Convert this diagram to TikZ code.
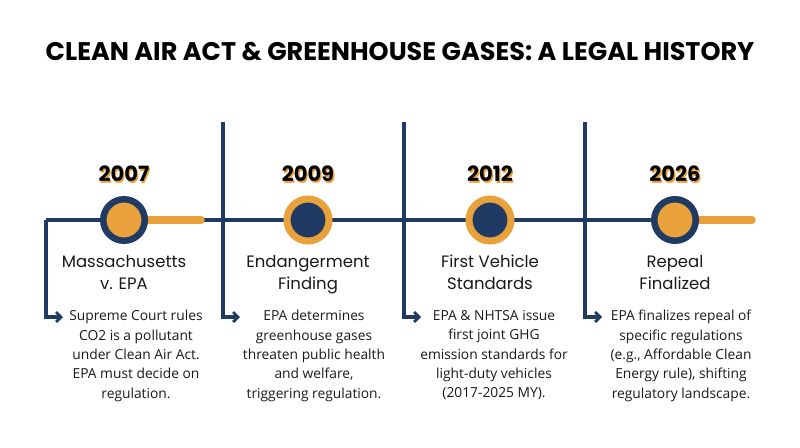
\documentclass[tikz,border=0pt]{standalone}
\usepackage{fontspec}
\setmainfont{Open Sans}
\newfontfamily\popfont{Poppins}
\newfontfamily\popbold{Poppins}[UprightFont=* Bold]
\usetikzlibrary{arrows.meta}
\definecolor{navy}{HTML}{1F3B63}
\definecolor{gold}{HTML}{E9A23B}
\definecolor{ink}{HTML}{1A1A1A}
\tikzset{
  tl/.style={draw=navy, line width=3.2pt},
  arr/.style={tl, -{Straight Barb[length=5pt,width=10pt,line width=2.8pt]}},
  bar/.style={draw=gold, line width=7.5pt, line cap=round},
  ringA/.style={circle, fill=gold, draw=navy, line width=6.5pt, minimum size=41.5pt, inner sep=0},
  ringB/.style={circle, fill=navy, draw=gold, line width=7pt, minimum size=42pt, inner sep=0},
  yr/.style={font=\popbold\fontsize{21}{24}\selectfont, text=black, inner sep=0},
  yrsh/.style={font=\popbold\fontsize{21}{24}\selectfont, text=gold, inner sep=0},
  ttl/.style={font=\popfont\fontsize{16.5}{22}\selectfont, text=ink, align=center, inner sep=0, anchor=north},
  desc/.style={font=\fontsize{13.8}{19.4}\selectfont, text=ink, align=center, inner sep=0, anchor=north},
}
\begin{document}
\begin{tikzpicture}[x=1pt,y=-1pt]
\useasboundingbox[fill=white] (0,0) rectangle (800,447);
\node[font=\popbold\fontsize{25.5}{28}\selectfont, text=black, inner sep=0] (title) at (400,52) {CLEAN AIR ACT \& GREENHOUSE GASES: A LEGAL HISTORY};

% coordinates
\coordinate (h0) at (46,220);
\coordinate (d0) at (46,317);
\coordinate (t0) at (63,317);
\coordinate (v1) at (223,122);
\coordinate (d1) at (223,317);
\coordinate (t1) at (240,317);
\coordinate (v2) at (404,122);
\coordinate (d2) at (404,317);
\coordinate (t2) at (421,317);
\coordinate (v3) at (585,122);
\coordinate (d3) at (585,317);
\coordinate (t3) at (602,317);
\coordinate (b1) at (201,220);
\coordinate (b4) at (752,220);

% circle positions
\path (124,220) coordinate (p1) (308,220) coordinate (p2) (490,220) coordinate (p3) (675,220) coordinate (p4);

% lines
\draw[tl] (h0) -- (p4);
\draw[arr] (h0) -- (d0) -- (t0);
\draw[arr] (v1) -- (d1) -- (t1);
\draw[arr] (v2) -- (d2) -- (t2);
\draw[arr] (v3) -- (d3) -- (t3);
\draw[bar] (p1) -- (b1);
\draw[bar] (p4) -- (b4);

\node[ringA] (c1) at (p1) {};
\node[ringB] (c2) at (p2) {};
\node[ringB] (c3) at (p3) {};
\node[ringA] (c4) at (p4) {};

% years
\foreach \n/\x/\y in {1/124/2007, 2/308/2009, 3/490/2012, 4/675/2026}{
  \node[yrsh] (ys\n) at (\x+1.3,175.3) {\y};
  \node[yr] (y\n) at (\x,174) {\y};
}

% titles
\node[ttl] (n1) at (124,255) {Massachusetts\\v. EPA};
\node[ttl] (n2) at (308,255) {Endangerment\\Finding};
\node[ttl] (n3) at (490,255) {First Vehicle\\Standards};
\node[ttl] (n4) at (675,255) {Repeal\\Finalized};

% descriptions
\node[desc] (e1) at (136,310) {Supreme Court rules\\CO2 is a pollutant\\under Clean Air Act.\\EPA must decide on\\regulation.};
\node[desc] (e2) at (314,310) {EPA determines\\greenhouse gases\\threaten public health\\and welfare,\\triggering regulation.};
\node[desc] (e3) at (494,310) {EPA \& NHTSA issue\\first joint GHG\\emission standards for\\light-duty vehicles\\(2017-2025 MY).};
\node[desc] (e4) at (681,310) {EPA finalizes repeal of\\specific regulations\\(e.g., Affordable Clean\\Energy rule), shifting\\regulatory landscape.};
\end{tikzpicture}
\end{document}
